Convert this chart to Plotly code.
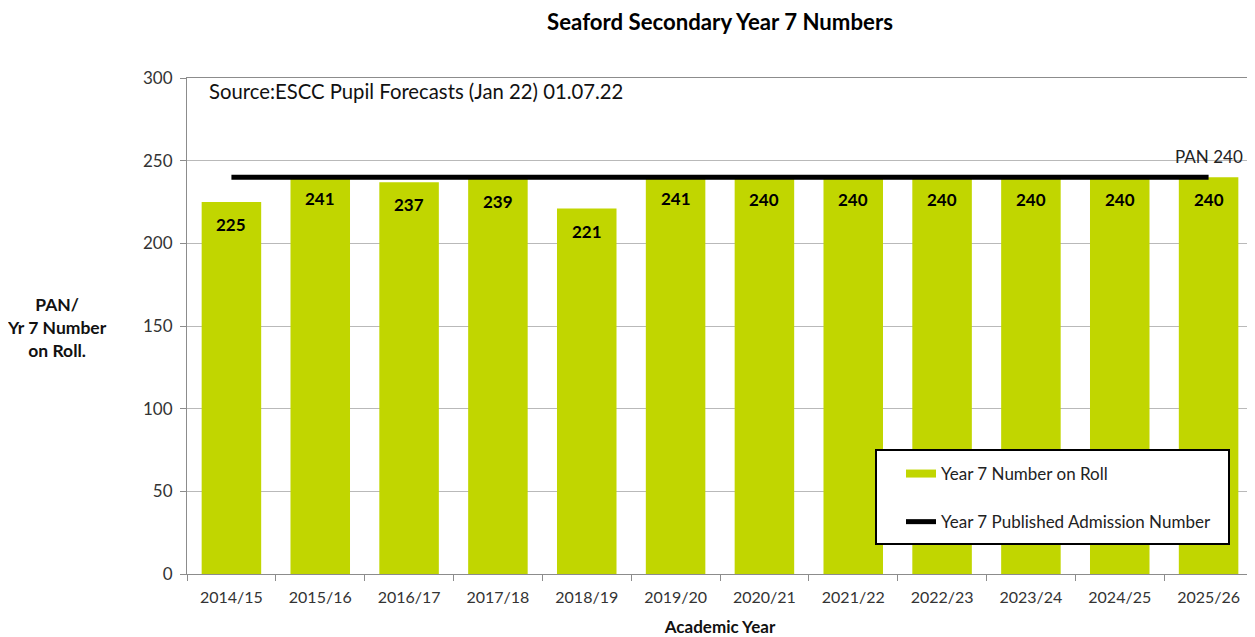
import plotly.graph_objects as go

categories = ["2014/15", "2015/16", "2016/17", "2017/18", "2018/19", "2019/20",
              "2020/21", "2021/22", "2022/23", "2023/24", "2024/25", "2025/26"]
on_roll = [225, 241, 237, 239, 221, 241, 240, 240, 240, 240, 240, 240]
pan = [240] * 12
pan_label = "PAN 240"
source_text = "Source:ESCC Pupil Forecasts (Jan 22) 01.07.22"

GREEN = "#c1d600"
FONT = "Lato"
GRID = "#b9b9b9"
AXIS = "#8c8c8c"

OFF = 8  # page body margin offset
W, H = 1255 - OFF, 637 - OFF
# plot area in page coordinates: x 187..1253, y 78..574
L, R, T, B = 187 - OFF, 1255 - 1253, 78 - OFF, 637 - 574
PW, PH = W - L - R, H - T - B


def px(xp):
    return (xp - 187) / PW


def py(yp):
    return (574 - yp) / PH


fig = go.Figure()
fig.add_trace(go.Bar(
    x=categories, y=on_roll, marker=dict(color=GREEN, line=dict(width=0)),
    name="Year 7 Number on Roll", showlegend=False,
))
fig.add_trace(go.Scatter(
    x=categories, y=pan, mode="lines", line=dict(color="black", width=5),
    name="Year 7 Published Admission Number", showlegend=False,
))
# legend entries
fig.add_trace(go.Scatter(
    x=[None], y=[None], mode="lines", line=dict(color=GREEN, width=8),
    name="Year 7 Number on Roll", legendgroup="a",
))
fig.add_trace(go.Scatter(
    x=[None], y=[None], mode="lines", line=dict(color="black", width=5),
    name="Year 7 Published Admission Number", legendgroup="b",
))

for c, v in zip(categories, on_roll):
    fig.add_annotation(x=c, y=v, text=f"<b>{v}</b>", showarrow=False,
                       yanchor="top", yshift=-10,
                       font=dict(family=FONT, size=17, color="black"))

fig.add_annotation(x=categories[-1], y=pan[-1], text=pan_label, showarrow=False,
                   xanchor="center", yanchor="bottom", yshift=8,
                   font=dict(family=FONT, size=17, color="#222"))
fig.add_annotation(x=px(207), y=1.0, xref="paper", yref="paper", text=source_text,
                   showarrow=False, xanchor="left", yanchor="top", yshift=1,
                   font=dict(family=FONT, size=20.3, color="#111"))
fig.add_annotation(x=px(57), y=py(327), xref="paper", yref="paper",
                   text="<b>PAN/<br>Yr 7 Number<br>on Roll.</b>",
                   showarrow=False, xanchor="center", yanchor="middle",
                   font=dict(family=FONT, size=17.5, color="#111"))

fig.add_shape(type="rect", xref="paper", yref="paper",
              x0=px(876), x1=px(1229), y0=py(544), y1=py(450),
              fillcolor="white", line=dict(color="black", width=2), layer="above")

fig.update_layout(
    width=W, height=H,
    margin=dict(l=L, r=R, t=T, b=B, autoexpand=False),
    paper_bgcolor="white", plot_bgcolor="white",
    bargap=0.33,
    title=dict(text="<b>Seaford Secondary Year 7 Numbers</b>", x=0.5, xref="paper",
               y=1 - (22 - OFF) / H, yanchor="middle",
               font=dict(family=FONT, size=22.2, color="black")),
    font=dict(family=FONT, size=16, color="#333"),
    legend=dict(x=px(901), y=py(456), xanchor="left", yanchor="top",
                bgcolor="rgba(0,0,0,0)", borderwidth=0, tracegroupgap=23,
                font=dict(family=FONT, size=17, color="#222")),
    xaxis=dict(showline=True, linecolor=AXIS, linewidth=1, mirror=True,
               ticks="outside", tickson="boundaries", ticklen=6, tickcolor=AXIS,
               ticklabelstandoff=9,
               tickfont=dict(family=FONT, size=16, color="#333"),
               title=dict(text="<b>Academic Year</b>", font=dict(family=FONT, size=17, color="#111"),
                          standoff=15)),
    yaxis=dict(range=[0, 300], dtick=50, showline=True, linecolor=AXIS, linewidth=1, mirror=True,
               ticks="outside", ticklen=6, tickcolor=AXIS, showgrid=True, gridcolor=GRID,
               ticklabelstandoff=4,
               gridwidth=1, zeroline=False,
               tickfont=dict(family=FONT, size=17, color="#333")),
)
fig.write_html("out.html")
